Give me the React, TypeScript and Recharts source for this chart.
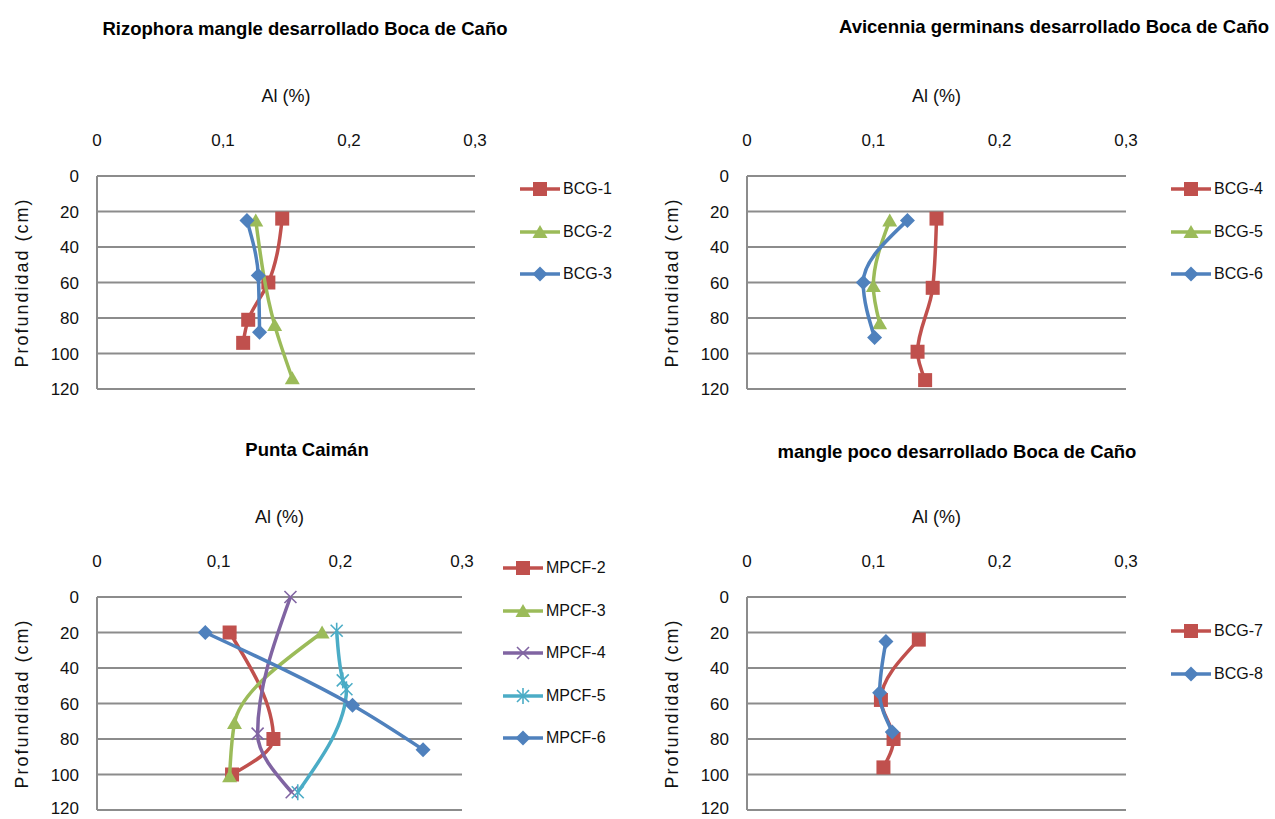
import React from 'react';
import { ScatterChart, Scatter, XAxis, YAxis, CartesianGrid, Legend } from 'recharts';

// [Al (%), profundidad (cm)]
type Pt = [number, number];

// Rizophora mangle desarrollado Boca de Caño
const BCG1: Pt[] = [[0.147, 24], [0.136, 60], [0.12, 81], [0.116, 94]];
const BCG2: Pt[] = [[0.126, 25], [0.141, 84], [0.155, 114]];
const BCG3: Pt[] = [[0.119, 25], [0.128, 56], [0.129, 88]];

// Avicennia germinans desarrollado Boca de Caño
const BCG4: Pt[] = [[0.15, 24], [0.147, 63], [0.135, 99], [0.141, 115]];
const BCG5: Pt[] = [[0.113, 25], [0.1, 62], [0.105, 83]];
const BCG6: Pt[] = [[0.127, 25], [0.092, 60], [0.101, 91]];

// Punta Caimán
const MPCF2: Pt[] = [[0.109, 20], [0.145, 80], [0.111, 100]];
const MPCF3: Pt[] = [[0.185, 20], [0.113, 71], [0.109, 101]];
const MPCF4: Pt[] = [[0.159, 0], [0.132, 77], [0.16, 110]];
const MPCF5: Pt[] = [[0.197, 19], [0.202, 47], [0.205, 52], [0.165, 110]];
const MPCF6: Pt[] = [[0.089, 20], [0.21, 61], [0.268, 86]];

// mangle poco desarrollado Boca de Caño
const BCG7: Pt[] = [[0.136, 24], [0.106, 58], [0.116, 80], [0.108, 96]];
const BCG8: Pt[] = [[0.11, 25], [0.105, 54], [0.115, 76]];

const alTicks = [0, 0.1, 0.2, 0.3];
const depthTicks = [0, 20, 40, 60, 80, 100, 120];

const RED = '#c0504d';
const GREEN = '#9bbb59';
const BLUE = '#4f81bd';
const PURPLE = '#8064a2';
const CYAN = '#4bacc6';
const TEXT = '#111';
const GRID = '#8c8c8c';

type MarkerKind = 'square' | 'triangle' | 'diamond' | 'x' | 'star';
type Series = { name: string; color: string; marker: MarkerKind; points: Pt[] };

function Marker({ kind, cx, cy, color }: { kind: MarkerKind; cx: number; cy: number; color: string }) {
  switch (kind) {
    case 'square':
      return <rect x={cx - 7} y={cy - 7} width={14} height={14} fill={color} />;
    case 'triangle':
      return <polygon points={`${cx},${cy - 7} ${cx + 7.5},${cy + 6} ${cx - 7.5},${cy + 6}`} fill={color} />;
    case 'diamond':
      return <polygon points={`${cx},${cy - 7.5} ${cx + 7.5},${cy} ${cx},${cy + 7.5} ${cx - 7.5},${cy}`} fill={color} />;
    case 'x':
      return (
        <g stroke={color} strokeWidth={1.6}>
          <line x1={cx - 6} y1={cy - 6} x2={cx + 6} y2={cy + 6} />
          <line x1={cx - 6} y1={cy + 6} x2={cx + 6} y2={cy - 6} />
        </g>
      );
    default:
      return (
        <g stroke={color} strokeWidth={1.6}>
          <line x1={cx - 6} y1={cy - 6} x2={cx + 6} y2={cy + 6} />
          <line x1={cx - 6} y1={cy + 6} x2={cx + 6} y2={cy - 6} />
          <line x1={cx} y1={cy - 8} x2={cx} y2={cy + 8} />
        </g>
      );
  }
}

function SeriesKey({ series }: { series: Series[] }) {
  return (
    <div>
      {series.map((s) => (
        <div key={s.name} style={{ display: 'flex', alignItems: 'center', height: 42.5 }}>
          <svg width={40} height={20}>
            <line x1={0} x2={40} y1={10} y2={10} stroke={s.color} strokeWidth={3.5} />
            <Marker kind={s.marker} cx={20} cy={10} color={s.color} />
          </svg>
          <span style={{ marginLeft: 3, fontSize: 16, color: TEXT }}>{s.name}</span>
        </div>
      ))}
    </div>
  );
}

const fmtAl = (v: number) => (v === 0 ? '0' : String(v).replace('.', ','));

interface PanelProps {
  title: string;
  titleX: number;
  titleY: number;
  box: { left: number; top: number; width: number; height: number };
  margin: { top: number; right: number; bottom: number; left: number };
  legendAt: { left: number; top: number };
  series: Series[];
}

function Panel({ title, titleX, titleY, box, margin, legendAt, series }: PanelProps) {
  return (
    <>
      <div
        style={{
          position: 'absolute',
          left: titleX,
          top: titleY,
          transform: 'translate(-50%, -50%)',
          whiteSpace: 'nowrap',
          fontWeight: 'bold',
          fontSize: 18.5,
          color: '#000',
        }}
      >
        {title}
      </div>
      <div style={{ position: 'absolute', left: box.left, top: box.top }}>
        <ScatterChart width={box.width} height={box.height} margin={margin}>
          <CartesianGrid vertical={false} stroke={GRID} strokeWidth={2} />
          <XAxis
            type="number"
            dataKey="al"
            orientation="top"
            domain={[0, 0.3]}
            ticks={alTicks}
            tickFormatter={fmtAl}
            height={56}
            axisLine={false}
            tickLine={false}
            tickSize={0}
            tickMargin={30}
            tick={{ fill: TEXT, fontSize: 17 }}
            label={{ value: 'Al (%)', position: 'top', offset: 18, style: { fontSize: 18, fill: TEXT } }}
          />
          <YAxis
            type="number"
            dataKey="depth"
            reversed
            domain={[0, 120]}
            ticks={depthTicks}
            width={80}
            axisLine={{ stroke: GRID, strokeWidth: 2 }}
            tickLine={false}
            tickSize={0}
            tickMargin={18}
            tick={{ fill: TEXT, fontSize: 17 }}
            label={{
              value: 'Profundidad (cm)',
              angle: -90,
              position: 'insideLeft',
              offset: 5,
              style: { textAnchor: 'middle', fontSize: 18, letterSpacing: 2, fill: TEXT },
            }}
          />
          {series.map((s) => (
            <Scatter
              key={s.name}
              name={s.name}
              data={s.points.map(([al, depth]) => ({ al, depth }))}
              fill={s.color}
              line={{ stroke: s.color, strokeWidth: 3.5 }}
              lineJointType="monotoneY"
              shape={(p: any) => <Marker kind={s.marker} cx={p.cx} cy={p.cy} color={s.color} />}
              isAnimationActive={false}
            />
          ))}
          <Legend
            layout="vertical"
            align="center"
            verticalAlign="middle"
            wrapperStyle={{ left: legendAt.left, top: legendAt.top, width: 130, height: 'auto' }}
            content={() => <SeriesKey series={series} />}
          />
        </ScatterChart>
      </div>
    </>
  );
}

const rizophora: Series[] = [
  { name: 'BCG-1', color: RED, marker: 'square', points: BCG1 },
  { name: 'BCG-2', color: GREEN, marker: 'triangle', points: BCG2 },
  { name: 'BCG-3', color: BLUE, marker: 'diamond', points: BCG3 },
];
const avicennia: Series[] = [
  { name: 'BCG-4', color: RED, marker: 'square', points: BCG4 },
  { name: 'BCG-5', color: GREEN, marker: 'triangle', points: BCG5 },
  { name: 'BCG-6', color: BLUE, marker: 'diamond', points: BCG6 },
];
const puntaCaiman: Series[] = [
  { name: 'MPCF-2', color: RED, marker: 'square', points: MPCF2 },
  { name: 'MPCF-3', color: GREEN, marker: 'triangle', points: MPCF3 },
  { name: 'MPCF-4', color: PURPLE, marker: 'x', points: MPCF4 },
  { name: 'MPCF-5', color: CYAN, marker: 'star', points: MPCF5 },
  { name: 'MPCF-6', color: BLUE, marker: 'diamond', points: MPCF6 },
];
const pocoDesarrollado: Series[] = [
  { name: 'BCG-7', color: RED, marker: 'square', points: BCG7 },
  { name: 'BCG-8', color: BLUE, marker: 'diamond', points: BCG8 },
];

export default function App() {
  return (
    <div
      style={{
        position: 'absolute',
        left: 0,
        top: 0,
        width: 1275,
        height: 819,
        overflow: 'hidden',
        background: '#fff',
        fontFamily: '"Liberation Sans", Arial, sans-serif',
      }}
    >
      <Panel
        title="Rizophora mangle desarrollado Boca de Caño"
        titleX={305}
        titleY={29}
        box={{ left: 0, top: 60, width: 640, height: 340 }}
        margin={{ top: 60, right: 165, bottom: 11, left: 17 }}
        legendAt={{ left: 520, top: 108 }}
        series={rizophora}
      />
      <Panel
        title="Avicennia germinans desarrollado Boca de Caño"
        titleX={1054}
        titleY={27}
        box={{ left: 650, top: 60, width: 625, height: 340 }}
        margin={{ top: 60, right: 149, bottom: 11, left: 17 }}
        legendAt={{ left: 521, top: 108 }}
        series={avicennia}
      />
      <Panel
        title="Punta Caimán"
        titleX={307}
        titleY={450}
        box={{ left: 0, top: 481, width: 640, height: 337 }}
        margin={{ top: 60, right: 178, bottom: 8, left: 17 }}
        legendAt={{ left: 503, top: 66 }}
        series={puntaCaiman}
      />
      <Panel
        title="mangle poco desarrollado Boca de Caño"
        titleX={957}
        titleY={452}
        box={{ left: 650, top: 481, width: 625, height: 337 }}
        margin={{ top: 60, right: 149, bottom: 8, left: 17 }}
        legendAt={{ left: 521, top: 129 }}
        series={pocoDesarrollado}
      />
    </div>
  );
}
